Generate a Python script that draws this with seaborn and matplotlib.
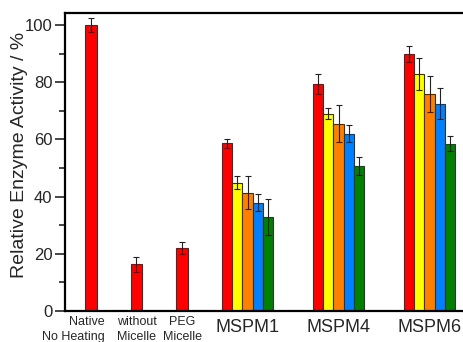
import matplotlib
matplotlib.use("Agg")
import matplotlib.pyplot as plt
import matplotlib.transforms as mtransforms
import numpy as np
import pandas as pd
import seaborn as sns

# Control samples (single bars)
control_labels = ["Native\nNo Heating", "without\nMicelle", "PEG\nMicelle"]
control_values = [100.0, 16.3, 22.1]
control_errors = [2.3, 2.5, 2.1]

# Micelle formulations, five conditions each
micelle_labels = ["MSPM1", "MSPM4", "MSPM6"]
cond_names = ["c1", "c2", "c3", "c4", "c5"]
cond1_values = [58.6, 79.3, 89.7]
cond2_values = [44.9, 69.0, 82.8]
cond3_values = [41.4, 65.5, 75.8]
cond4_values = [37.9, 62.0, 72.5]
cond5_values = [32.8, 50.6, 58.5]
cond1_errors = [1.5, 3.4, 2.8]
cond2_errors = [2.2, 1.9, 5.5]
cond3_errors = [5.7, 6.5, 6.3]
cond4_errors = [3.1, 2.9, 5.4]
cond5_errors = [6.2, 3.1, 2.6]

cond_colors = ["#ff0000", "#ffff00", "#ff8000", "#0080ff", "#008000"]

yticks = [0, 20, 40, 60, 80, 100]

sns.set_style("ticks")
plt.rcParams["font.family"] = ["Liberation Sans", "DejaVu Sans"]

# Layout of bar positions along x
step = 0.22
ctrl_pos = np.arange(len(control_labels), dtype=float)
grp_start = np.array([3.0, 5.0, 7.0])

ctrl_df = pd.DataFrame({
    "pos": ctrl_pos,
    "value": control_values,
    "err": control_errors,
    "cond": "c1",
})

vals = [cond1_values, cond2_values, cond3_values, cond4_values, cond5_values]
errs = [cond1_errors, cond2_errors, cond3_errors, cond4_errors, cond5_errors]
rows = []
for k, name in enumerate(cond_names):
    for g in range(len(micelle_labels)):
        rows.append({"pos": round(grp_start[g] + k * step, 3),
                     "value": vals[k][g], "err": errs[k][g], "cond": name})
grp_df = pd.DataFrame(rows)

DPI = 100
fig = plt.figure(figsize=(4.64, 3.42), dpi=DPI)
left_px, right_px = 65, 475
ax = fig.add_axes([left_px / 464, 31 / 342, (right_px - left_px) / 464, (311 - 13) / 342])

palette = dict(zip(cond_names, cond_colors))
bar_kw = dict(edgecolor="#333333", linewidth=0.8)

sns.barplot(data=ctrl_df, x="pos", y="value", hue="cond", palette=palette,
            native_scale=True, dodge=False, width=0.26, legend=False,
            errorbar=None, saturation=1, ax=ax, **bar_kw)
sns.barplot(data=grp_df, x="pos", y="value", hue="cond", palette=palette,
            native_scale=True, dodge=False, width=1.0, legend=False,
            errorbar=None, saturation=1, ax=ax, **bar_kw)

all_df = pd.concat([ctrl_df, grp_df])
ax.errorbar(all_df["pos"], all_df["value"], yerr=all_df["err"], fmt="none",
            ecolor="#222222", elinewidth=0.8, capsize=2.5, capthick=0.8, zorder=5)

ax.set_xlim(-0.571, 8.44)
ax.set_ylim(0, 104.2)
ax.set_yticks(yticks)
ax.set_yticks(np.arange(10, 101, 20), minor=True)
ax.tick_params(axis="y", which="major", direction="out", length=7, width=1.2,
               labelsize=12, pad=2)
ax.tick_params(axis="y", which="minor", direction="out", length=4, width=1.2)


def shift(dx_px, dy_px):
    return mtransforms.ScaledTranslation(dx_px / DPI, dy_px / DPI, fig.dpi_scale_trans)


# x labels: first line of each control label and the micelle names as tick labels
first_lines = [s.split("\n")[0] for s in control_labels]
second_lines = [s.split("\n")[1] for s in control_labels]
tick_pos = list(ctrl_pos) + list(grp_start + 2 * step)
ax.set_xticks(tick_pos)
ax.set_xticklabels(first_lines + micelle_labels)
ax.tick_params(axis="x", length=0, pad=0)
first_dx = [-4, 0, 0]
second_dx = [-18, 0, 1]
for i, lbl in enumerate(ax.get_xticklabels()):
    lbl.set_verticalalignment("center")
    if i < len(control_labels):
        lbl.set_fontsize(9)
        lbl.set_transform(lbl.get_transform() + shift(first_dx[i], -11))
    else:
        lbl.set_fontsize(13)
        lbl.set_transform(lbl.get_transform() + shift(0, -16))

xbase = mtransforms.blended_transform_factory(ax.transData, ax.transAxes)
for i, text in enumerate(second_lines):
    ax.text(ctrl_pos[i], 0, text, fontsize=9, ha="center", va="center",
            transform=xbase + shift(second_dx[i], -26), clip_on=False)

ax.set_xlabel("")
ax.set_ylabel("Relative Enzyme Activity / %", fontsize=14)
ax.yaxis.set_label_coords(-0.09, 0.525)

for side in ["left", "bottom", "top"]:
    ax.spines[side].set_visible(True)
    ax.spines[side].set_linewidth(1.6)
    ax.spines[side].set_color("black")
ax.spines["right"].set_visible(False)

fig.savefig("out.png", dpi=DPI)
